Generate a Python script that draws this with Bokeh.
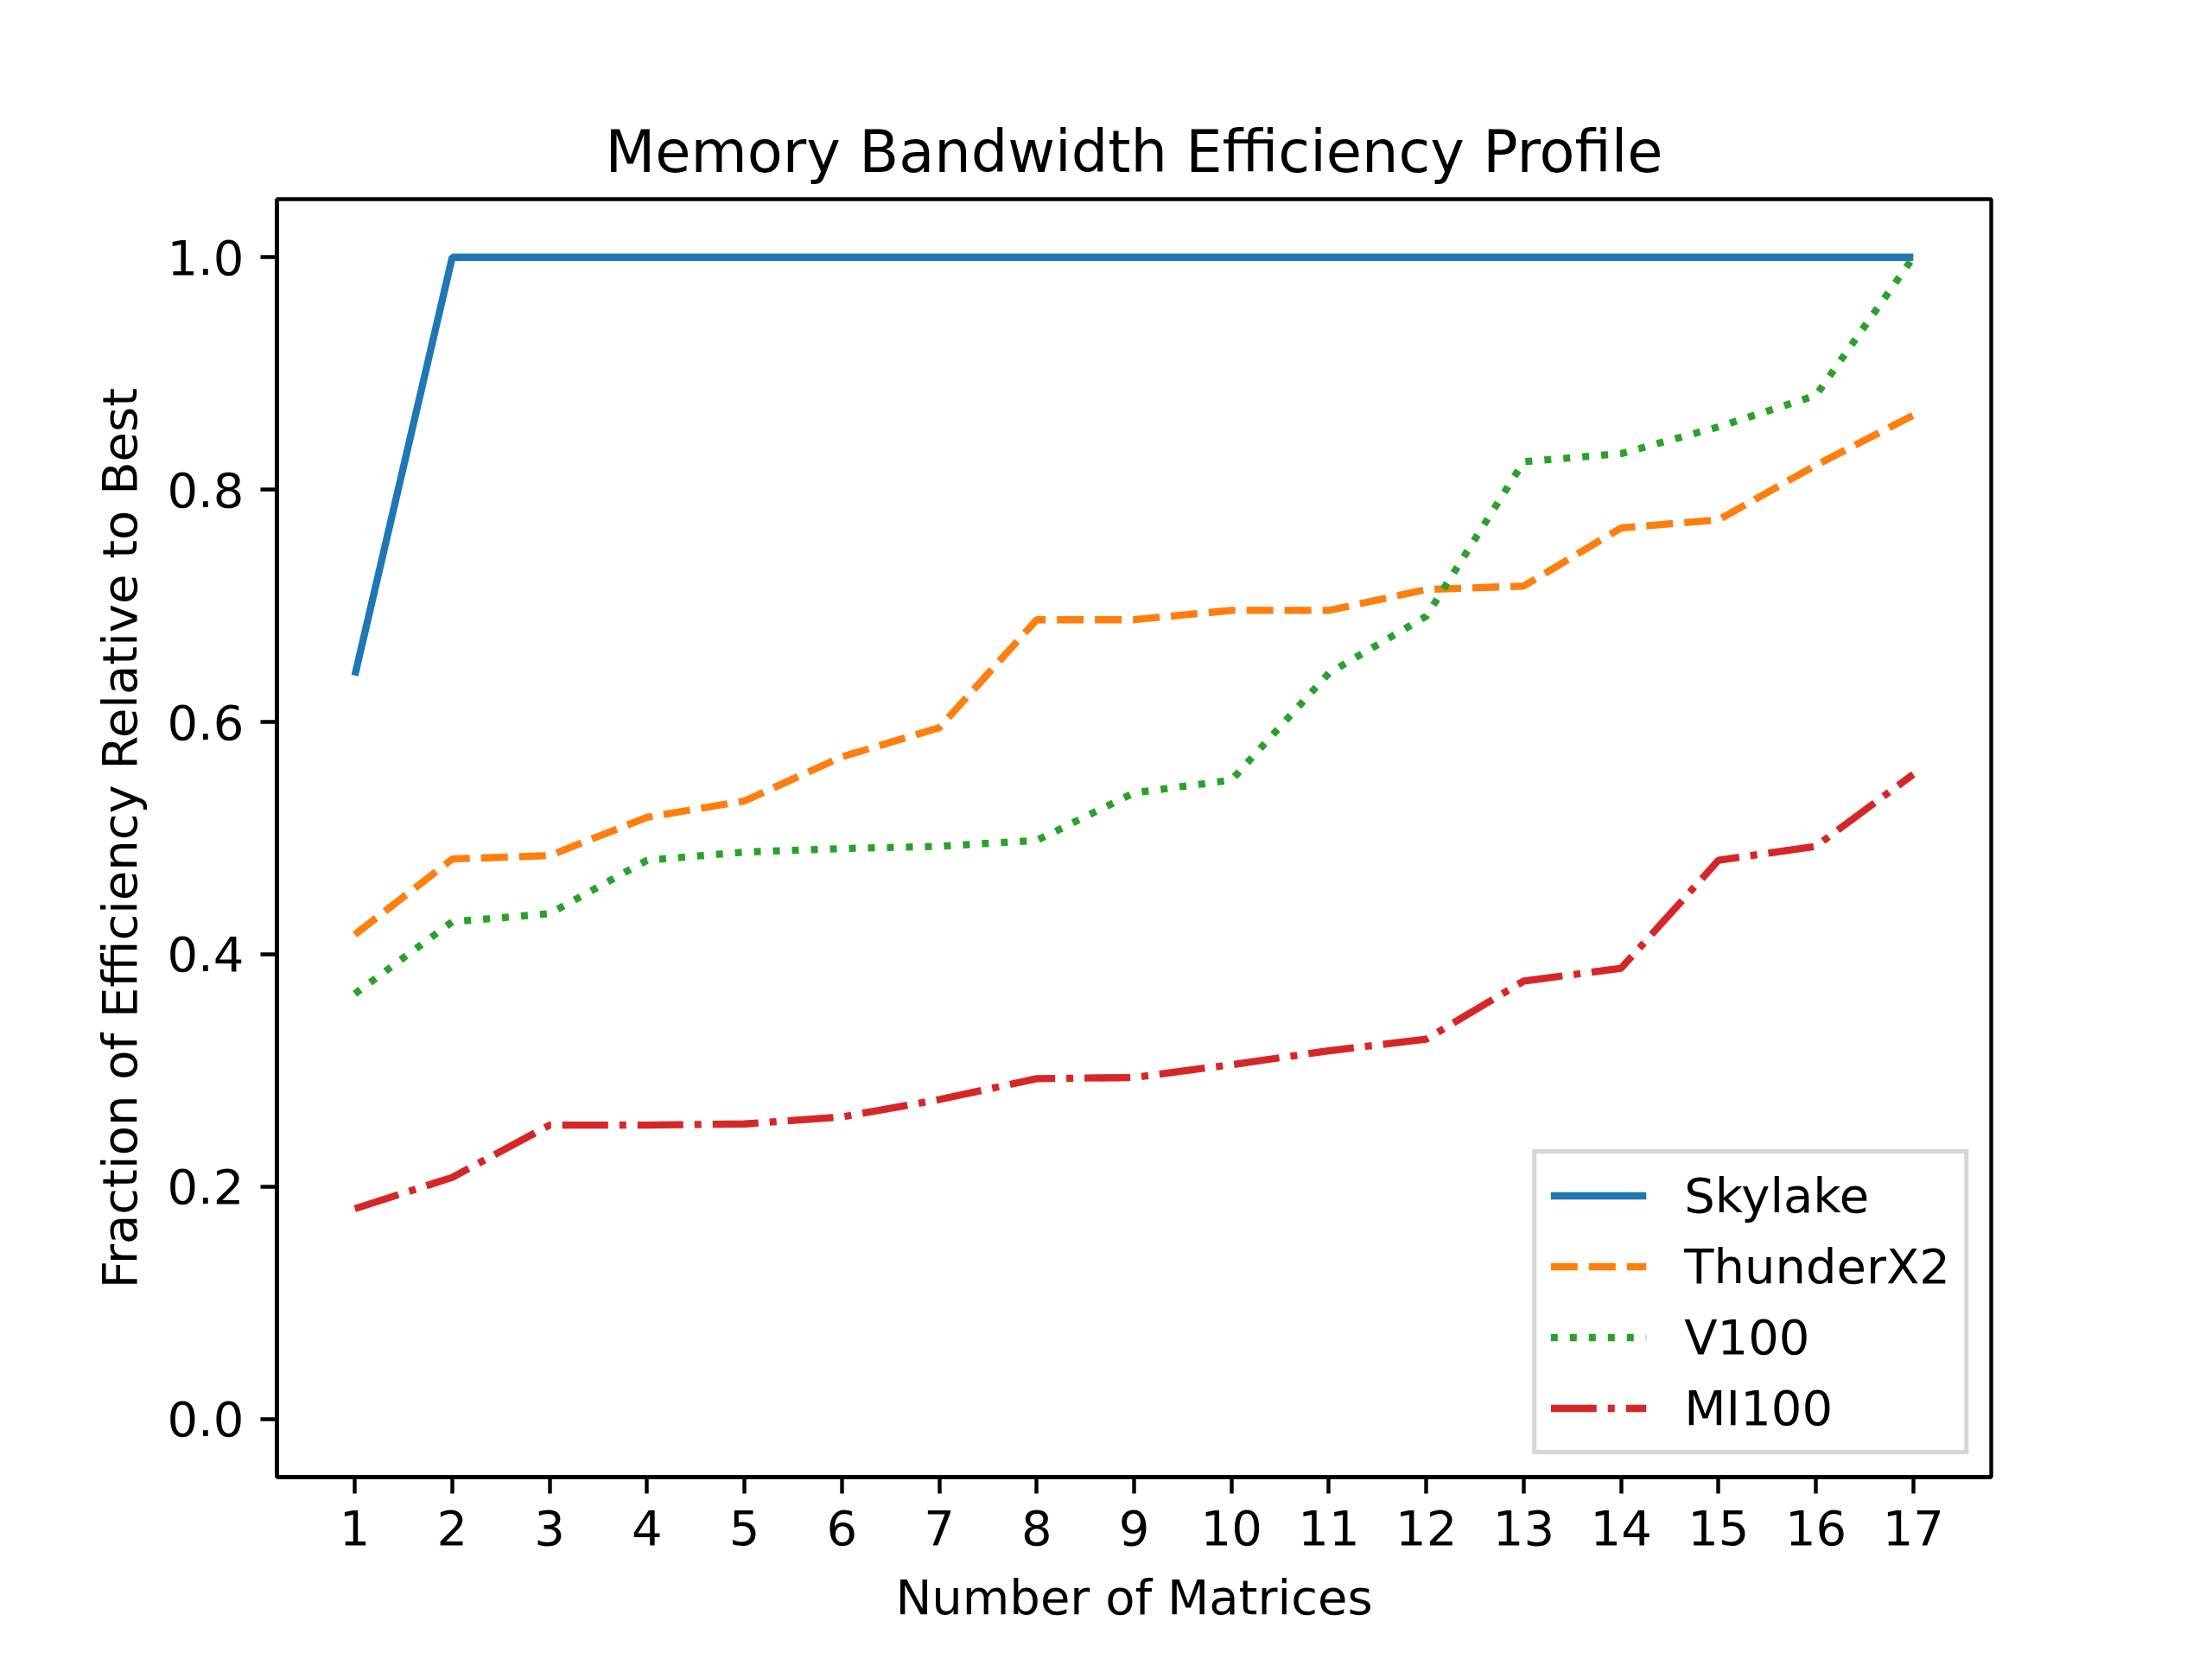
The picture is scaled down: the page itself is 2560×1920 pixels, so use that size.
from bokeh.plotting import figure
from bokeh.models import Range1d, FixedTicker, PrintfTickFormatter, Legend, LegendItem
from bokeh.embed import file_html
from bokeh.resources import INLINE

matrices = list(range(1, 18))
skylake = [0.640] + [1.0] * 16
thunderx2 = [0.417, 0.482, 0.485, 0.518, 0.532, 0.570, 0.595, 0.688, 0.688,
             0.696, 0.696, 0.714, 0.717, 0.767, 0.774, 0.821, 0.864]
v100 = [0.366, 0.428, 0.435, 0.481, 0.488, 0.491, 0.493, 0.498, 0.539,
        0.550, 0.642, 0.691, 0.824, 0.831, 0.854, 0.881, 1.0]
mi100 = [0.181, 0.208, 0.253, 0.253, 0.254, 0.260, 0.275, 0.293, 0.294,
         0.305, 0.317, 0.327, 0.377, 0.388, 0.481, 0.493, 0.555]
y_ticks = [0.0, 0.2, 0.4, 0.6, 0.8, 1.0]

FONT = "DejaVu Sans"

p = figure(width=2552, height=1912, output_backend="svg", toolbar_location=None,
           x_range=Range1d(0.2, 17.8), y_range=Range1d(-0.05, 1.05),
           min_border_left=320, min_border_right=248, min_border_top=230,
           min_border_bottom=203, title="Memory Bandwidth Efficiency Profile")

p.title.text_font = FONT
p.title.text_font_size = "67px"
p.title.text_font_style = "normal"
p.title.align = "center"
p.title.standoff = 32
p.title.text_color = "black"

p.xgrid.visible = False
p.ygrid.visible = False
p.outline_line_color = "black"
p.outline_line_width = 4.4
p.outline_line_alpha = 1.0

for ax in (p.xaxis[0], p.yaxis[0]):
    ax.axis_line_width = 4.4
    ax.axis_line_color = "black"
    ax.major_tick_line_width = 4.4
    ax.major_tick_line_color = "black"
    ax.major_tick_out = 19
    ax.major_tick_in = 0
    ax.minor_tick_out = 0
    ax.minor_tick_in = 0
    ax.major_label_standoff = 19
    ax.major_label_text_font = FONT
    ax.major_label_text_font_size = "56px"
    ax.major_label_text_color = "black"
    ax.axis_label_text_font = FONT
    ax.axis_label_text_font_size = "56px"
    ax.axis_label_text_font_style = "normal"
    ax.axis_label_text_color = "black"

p.xaxis.axis_label_standoff = 25
p.yaxis.axis_label_standoff = 19
p.xaxis.ticker = FixedTicker(ticks=matrices)
p.yaxis.ticker = FixedTicker(ticks=y_ticks)
p.yaxis.formatter = PrintfTickFormatter(format="%.1f")
p.xaxis.axis_label = "Number of Matrices"
p.yaxis.axis_label = "Fraction of Efficiency Relative to Best"

lw = 8.3
r1 = p.line(matrices, skylake, line_color="#1f77b4", line_width=lw)
r2 = p.line(matrices, thunderx2, line_color="#ff7f0e", line_width=lw, line_dash="31 13")
r3 = p.line(matrices, v100, line_color="#2ca02c", line_width=lw, line_dash="8 14")
r4 = p.line(matrices, mi100, line_color="#d62728", line_width=lw, line_dash="53 13 8 13")

legend = Legend(items=[
    LegendItem(label="Skylake", renderers=[r1]),
    LegendItem(label="ThunderX2", renderers=[r2]),
    LegendItem(label="V100", renderers=[r3]),
    LegendItem(label="MI100", renderers=[r4]),
], location="bottom_right")
legend.margin = 26
legend.padding = 16
legend.spacing = 17
legend.glyph_width = 111
legend.glyph_height = 55
legend.label_height = 55
legend.label_standoff = 44
legend.label_text_font = FONT
legend.label_text_font_size = "56px"
legend.label_text_color = "black"
legend.border_line_color = "#cccccc"
legend.border_line_width = 5
legend.border_line_alpha = 0.8
legend.background_fill_color = "white"
legend.background_fill_alpha = 0.8
p.add_layout(legend, "center")

open("out.html", "w").write(file_html(p, INLINE))
